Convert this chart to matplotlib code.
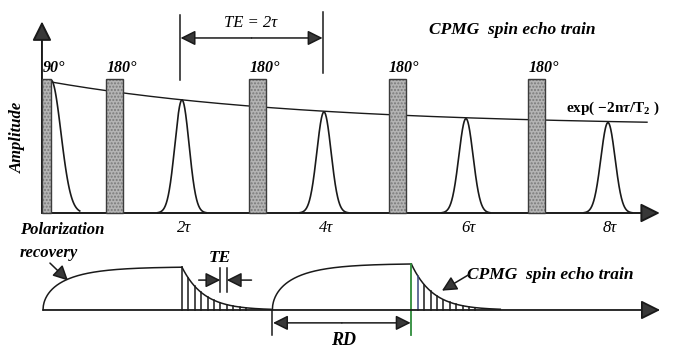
import numpy as np
import matplotlib.pyplot as plt

plt.rcParams['font.family'] = ['Liberation Serif', 'DejaVu Serif']
plt.rcParams['mathtext.fontset'] = 'custom'
plt.rcParams['mathtext.rm'] = 'Liberation Serif:bold'
plt.rcParams['mathtext.it'] = 'Liberation Serif:bold:italic'

# --- CPMG echo train (time in units of tau, amplitude normalised to the 90 pulse)
pulse_t = [0.09, 1.05, 3.06, 5.03, 6.99]
pulse_w = [0.13, 0.24, 0.24, 0.24, 0.24]
pulse_lbl = ['90°', '180°', '180°', '180°', '180°']
pulse_h = 1.01
echo_t = [2, 4, 6, 8]
echo_amp = [0.85, 0.76, 0.71, 0.68]
echo_lbl = ['2τ', '4τ', '6τ', '8τ']
env_floor, env_T = 0.65, 3.6
echo_sig = 0.1
fid_sig = 0.14

# --- repeated acquisition (time in units of RD)
recov_start = [0.0, 1.65]
recov_amp = [0.93, 1.0]
RD = 1.0
T1_b = 0.25
TE_b = 0.046
n_stripe = 11
T2_b = 0.155

ink = '#1a1a1a'
head = '#383838'

fig = plt.figure(figsize=(6.74, 3.49), dpi=100)
ax1 = fig.add_axes([0, 0, 1, 1], facecolor='none')
ax2 = fig.add_axes([0, 0, 1, 1], facecolor='none')
ax1.set_xlim(-0.563, 8.93)
ax1.set_ylim(-1.0226, 1.6015)
ax2.set_xlim(-0.3094, 4.5396)
ax2.set_ylim(-0.848, 6.739)
for ax in (ax1, ax2):
    ax.axis('off')


def arrow(ax, p0, p1, style='-|>', ms=10, lw=1.1):
    ax.annotate('', xy=p1, xytext=p0,
                arrowprops=dict(arrowstyle=f'{style},head_length=0.9,head_width=0.45',
                                mutation_scale=ms, lw=lw, color=ink, fc=head,
                                shrinkA=0, shrinkB=0))


bold_it = dict(fontweight='bold', fontstyle='italic')

# axes of the echo train
arrow(ax1, (0.028, 0), (0.028, 1.44), ms=13, lw=1.4)
arrow(ax1, (0.028, 0), (8.73, 0), ms=13, lw=1.4)
ax1.text(-0.31, 0.57, 'Amplitude', rotation=90, ha='center', va='center',
         fontsize=12, **bold_it)

# T2 envelope
t = np.linspace(0.155, 8.55, 400)
ax1.plot(t, env_floor + (1 - env_floor) * np.exp(-t / env_T), color=ink, lw=1.0, zorder=2)
ax1.text(8.07, 0.79, r'exp( $-$2n$\tau$/T$_2$ )', ha='center', va='center', fontsize=11,
         fontweight='bold')

# FID after the 90 pulse
t = np.linspace(0.155, 0.56, 100)
ax1.plot(t, np.exp(-(t - 0.155) ** 2 / (2 * fid_sig ** 2)), color=ink, lw=1.2, zorder=2)

# echoes
for tc, a, lbl in zip(echo_t, echo_amp, echo_lbl):
    t = np.linspace(tc - 0.34, tc + 0.34, 200)
    ax1.plot(t, a * np.exp(-(t - tc) ** 2 / (2 * echo_sig ** 2)), color=ink, lw=1.2, zorder=2)
    ax1.text(tc + 0.03, -0.115, lbl, ha='center', va='center', fontsize=12, fontstyle='italic')

# rf pulses: stippled fill, then a dark outline
ax1.bar(pulse_t, pulse_h, width=pulse_w, color='#b4b4b4', edgecolor='#7a7a7a',
        hatch='.....', lw=0, zorder=3)
ax1.bar(pulse_t, pulse_h, width=pulse_w, fill=False, edgecolor='#3c3c3c', lw=1.0, zorder=3)
for tp, lbl in zip(pulse_t, pulse_lbl):
    ax1.text(tp + 0.1, 1.09, lbl, ha='center', va='center', fontsize=11.5, **bold_it)

# TE = 2tau bracket
ax1.plot([1.97, 1.97], [1.0, 1.49], color=ink, lw=1.1)
ax1.plot([3.99, 3.99], [1.05, 1.51], color=ink, lw=1.1)
arrow(ax1, (2.98, 1.316), (1.98, 1.316))
arrow(ax1, (2.98, 1.316), (3.98, 1.316))
ax1.text(2.96, 1.43, 'TE = 2τ', ha='center', va='center', fontsize=12, fontstyle='italic')
ax1.text(6.65, 1.375, 'CPMG  spin echo train', ha='center', va='center', fontsize=12.5,
         **bold_it)

# --- lower panel: recovery + echo train, repeated
arrow(ax2, (0, 0), (4.44, 0), ms=13, lw=1.3)
for i, (s0, m) in enumerate(zip(recov_start, recov_amp)):
    s = np.linspace(0, RD, 400)
    shape = np.sqrt(1 - np.exp(-s / T1_b))
    ax2.plot(s0 + s, m * shape / shape[-1], color=ink, lw=1.1)
    s1 = s0 + RD
    s = np.linspace(0, 0.64, 200)
    ax2.plot(s1 + s, m * np.exp(-s / T2_b), color=ink, lw=1.1)
    for k in range(n_stripe):
        c = ink
        if i == 1 and k == 0:
            continue
        if i == 1 and k == 1:
            c = '#3b4680'
        ax2.plot([s1 + k * TE_b] * 2, [0, m * np.exp(-k * TE_b / T2_b)], color=c, lw=1.1)

# RD bracket, green line marks the end of the wait
s_end = recov_start[1] + RD
ax2.plot([s_end, s_end], [-0.54, recov_amp[1]], color='#2e8b3a', lw=1.3)
ax2.plot([recov_start[1], recov_start[1]], [-0.54, 0], color=ink, lw=1.1)
mid = recov_start[1] + RD / 2
arrow(ax2, (mid, -0.28), (recov_start[1] + 0.005, -0.28))
arrow(ax2, (mid, -0.28), (s_end - 0.005, -0.28))
ax2.text(mid + 0.01, -0.66, 'RD', ha='center', va='center', fontsize=13, **bold_it)

# TE marker between two stripes
k0 = 6
s_a, s_b = RD + k0 * TE_b, RD + (k0 + 1) * TE_b
ax2.plot([s_a, s_a], [0.39, 0.91], color=ink, lw=1.1)
ax2.plot([s_b, s_b], [0.39, 0.91], color=ink, lw=1.1)
arrow(ax2, (1.12, 0.65), (s_a, 0.65))
arrow(ax2, (1.50, 0.65), (s_b, 0.65))
ax2.text(1.275, 1.13, 'TE', ha='center', va='center', fontsize=12.5, **bold_it)

ax2.text(-0.165, 1.74, 'Polarization', ha='left', va='center', fontsize=12, **bold_it)
ax2.text(-0.165, 1.24, 'recovery', ha='left', va='center', fontsize=12, **bold_it)
arrow(ax2, (0.05, 1.02), (0.18, 0.64))

ax2.text(3.05, 0.76, 'CPMG  spin echo train', ha='left', va='center', fontsize=12.5, **bold_it)
arrow(ax2, (3.07, 0.78), (2.87, 0.42))

fig.savefig('out.png', dpi=100)
